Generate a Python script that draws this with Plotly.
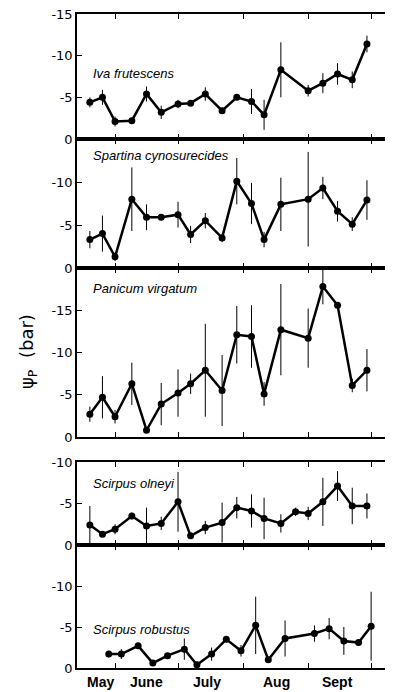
import plotly.graph_objects as go

YEAR = "1977"

# sampling dates (month-day)
dates_main = ["05-20", "05-26", "06-01", "06-09", "06-16", "06-23", "07-01", "07-07",
              "07-14", "07-22", "07-29", "08-05", "08-11", "08-19", "09-01", "09-08",
              "09-15", "09-22", "09-29"]
dates_olneyi = ["05-20", "05-26", "06-01", "06-09", "06-16", "06-23", "07-01", "07-07",
                "07-14", "07-22", "07-29", "08-05", "08-11", "08-19", "08-26", "09-01",
                "09-08", "09-15", "09-22", "09-29"]
dates_robustus = ["05-29", "06-04", "06-12", "06-19", "06-26", "07-04", "07-10", "07-17",
                  "07-24", "07-31", "08-07", "08-13", "08-21", "09-04", "09-11", "09-18",
                  "09-25", "10-01"]

species = ["Iva frutescens", "Spartina cynosurecides", "Panicum virgatum",
           "Scirpus olneyi", "Scirpus robustus"]

# pressure potential (bar) and error bars
iva_psi = [-4.4, -5.0, -2.1, -2.2, -5.4, -3.2, -4.2, -4.3, -5.4, -3.4, -5.0, -4.5, -2.9,
           -8.3, -5.8, -6.7, -7.8, -7.1, -11.4]
iva_err = [0.6, 0.9, 0.6, 0.2, 0.9, 0.8, 0.5, 0.2, 0.8, 0.3, 0.3, 1.5, 1.8, 3.3, 0.7, 1.2,
           1.3, 1.0, 1.0]
spartina_psi = [-3.3, -4.0, -1.3, -8.0, -5.9, -5.9, -6.2, -3.9, -5.5, -3.5, -10.1, -7.5,
                -3.3, -7.4, -8.0, -9.3, -6.6, -5.1, -7.9]
spartina_err = [1.0, 2.1, 0.5, 3.7, 1.5, 0.0, 1.5, 1.0, 0.9, 0.5, 2.7, 2.4, 0.9, 3.1, 5.5,
                1.3, 1.2, 0.8, 2.3]
panicum_psi = [-2.7, -4.7, -2.4, -6.3, -0.8, -3.9, -5.2, -6.3, -7.9, -5.5, -12.1, -11.9,
               -5.1, -12.7, -11.7, -17.8, -15.6, -6.1, -7.9]
panicum_err = [0.9, 2.5, 0.8, 2.5, 0.0, 2.5, 2.8, 1.2, 5.5, 4.2, 3.4, 3.7, 1.4, 5.4, 3.5,
               2.1, 0.0, 0.8, 2.5]
olneyi_psi = [-2.4, -1.3, -1.9, -3.5, -2.3, -2.6, -5.2, -1.1, -2.1, -2.7, -4.5, -4.1, -3.2,
              -2.6, -4.0, -3.8, -5.2, -7.1, -4.7, -4.7]
olneyi_err = [2.3, 0.0, 0.6, 0.4, 2.2, 0.8, 3.6, 0.0, 0.8, 2.4, 1.3, 2.0, 2.5, 1.1, 0.5,
              0.8, 2.9, 1.8, 2.2, 1.5]
robustus_psi = [-1.7, -1.7, -2.7, -0.6, -1.5, -2.3, -0.4, -1.7, -3.5, -2.1, -5.2, -1.0,
                -3.6, -4.2, -4.8, -3.3, -3.1, -5.1]
robustus_err = [0.4, 0.6, 0.0, 0.0, 0.0, 1.3, 0.0, 0.8, 0.0, 0.7, 3.5, 0.0, 2.2, 1.0, 1.3,
                1.7, 0.0, 4.2]

# axis limits and ticks per panel
y_bottom = [0, 0, 0, 0, 0]
y_top = [-15, -15, -20, -10, -15]
y_tickvals = [[-15, -10, -5, 0], [-10, -5, 0], [-15, -10, -5, 0], [-10, -5, 0], [-10, -5, 0]]
month_bounds = ["06-01", "07-01", "08-01", "09-01", "10-01"]
month_labels = ["May", "June", "July", "Aug", "Sept"]
month_label_pos = ["05-25", "06-16", "07-15", "08-17", "09-15"]
x_range = [YEAR + "-05-13 21:00", YEAR + "-10-11 10:00"]

panels = [
    (dates_main, iva_psi, iva_err),
    (dates_main, spartina_psi, spartina_err),
    (dates_main, panicum_psi, panicum_err),
    (dates_olneyi, olneyi_psi, olneyi_err),
    (dates_robustus, robustus_psi, robustus_err),
]

# layout geometry: page body has an 8px margin, so the figure starts at (8, 8)
OFF = 8
VW, VH = 393, 692
W, H = VW - OFF, VH - OFF
PLOT_L, PLOT_R, PLOT_T, PLOT_B = 77, 393, 14, 668
ML, MR, MT, MB = PLOT_L - OFF, VW - PLOT_R, PLOT_T - OFF, VH - PLOT_B
PH = PLOT_B - PLOT_T
PW = PLOT_R - PLOT_L


def frac(px):
    return (PLOT_B - px) / PH


def xfrac(px):
    return (px - PLOT_L) / PW


domains = [(139, 14), (268, 139), (437, 268), (545, 462), (668, 545)]
label_y = [73, 155, 288, 483, 629]

fig = go.Figure()
for i, (dts, vals, errs) in enumerate(panels):
    n = i + 1
    fig.add_trace(go.Scatter(
        x=[YEAR + "-" + d for d in dts], y=vals,
        mode="lines+markers",
        line=dict(color="black", width=2.5),
        marker=dict(color="black", size=7),
        error_y=dict(type="data", array=errs, visible=True, thickness=1, width=0,
                     color="black"),
        xaxis="x" + str(n), yaxis="y" + str(n),
        cliponaxis=False, showlegend=False,
    ))

layout = dict(
    width=W, height=H,
    margin=dict(l=ML, r=MR, t=MT, b=MB),
    plot_bgcolor="white", paper_bgcolor="white",
    showlegend=False,
)
tick_font = dict(family="DejaVu Sans", size=13, color="black")
for i in range(5):
    n = i + 1
    sfx = "" if n == 1 else str(n)
    b, t = domains[i]
    layout["xaxis" + sfx] = dict(
        domain=[0, 1], anchor="y" + str(n), type="date", range=x_range,
        showline=True, linecolor="black", linewidth=1.5, mirror="ticks",
        ticks="inside", ticklen=5, tickwidth=1.3, tickcolor="black",
        tickvals=[YEAR + "-" + m for m in month_bounds],
        showticklabels=False, showgrid=False, zeroline=False,
    )
    layout["yaxis" + sfx] = dict(
        domain=[frac(b), frac(t)], anchor="x" + str(n),
        range=[y_bottom[i], y_top[i]],
        tickvals=y_tickvals[i], ticktext=[str(v) for v in y_tickvals[i]],
        ticks="inside", ticklen=5, tickwidth=1.3, tickcolor="black",
        showline=True, linecolor="black", linewidth=1.5, mirror=False,
        tickfont=tick_font, showgrid=False, zeroline=False,
        ticklabeloverflow="allow",
    )
    layout["yaxis" + str(n + 5)] = dict(
        overlaying="y" + str(n), anchor="x" + str(n), side="right",
        range=[y_bottom[i], y_top[i]], tickvals=y_tickvals[i],
        ticks="inside", ticklen=7, tickwidth=1.3, tickcolor="black",
        showline=False, showticklabels=False, showgrid=False, zeroline=False,
    )

annotations = []
for i, name in enumerate(species):
    annotations.append(dict(
        text=name, xref="paper", yref="paper",
        x=xfrac(91), y=frac(label_y[i]),
        xanchor="left", yanchor="middle", showarrow=False,
        font=dict(family="Liberation Sans", size=13, style="italic", color="black"),
    ))
for lab, pos in zip(month_labels, month_label_pos):
    annotations.append(dict(
        text=lab, xref="x5", yref="paper", x=YEAR + "-" + pos, y=frac(682),
        xanchor="center", yanchor="middle", showarrow=False,
        font=dict(family="Liberation Sans", size=14, weight="bold", color="black"),
    ))
annotations.append(dict(
    text="ψ<sub>P</sub>  (bar)", xref="paper", yref="paper",
    x=xfrac(28), y=frac(352), textangle=-90,
    xanchor="center", yanchor="middle", showarrow=False,
    font=dict(family="DejaVu Sans", size=18, color="black"),
))
layout["annotations"] = annotations

fig.update_layout(**layout)
fig.write_html("out.html")
